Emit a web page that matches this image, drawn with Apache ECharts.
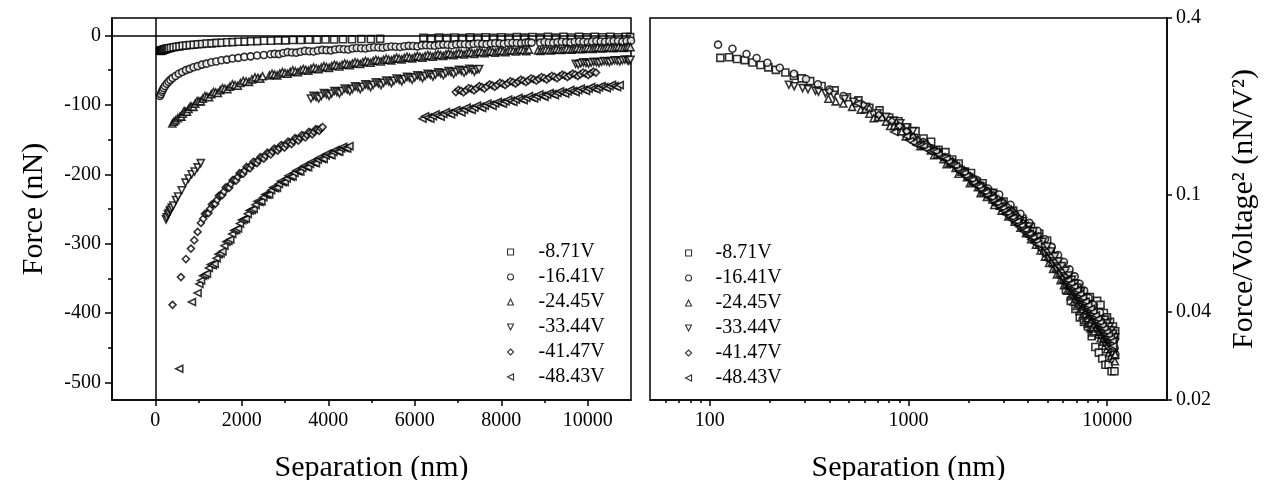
<!DOCTYPE html>
<html>
<head>
<meta charset="utf-8">
<script src="https://cdn.jsdelivr.net/npm/echarts@6/dist/echarts.min.js"></script>
<style>
  html, body { margin: 0; padding: 0; background: #fff; }
  #chart { width: 1269px; height: 480px; }
</style>
</head>
<body>
<div id="chart"></div>
<script>
// Tip bias voltages, one curve each
const voltages = [-8.71, -16.41, -24.45, -33.44, -41.47, -48.43];
// open square, circle, up triangle, down triangle, diamond, left triangle
const markerShapes = ['rect', 'circle', 'triangle', 'path://M0,0L2,0L1,2Z', 'diamond', 'path://M2,0L2,2L0,1Z'];

// Measured force curves: [separation (nm), force (nN)]
const curve871 = [
  [113,-22.2],[125,-22.3],[137,-22.0],[150,-21.8],[164,-21.4],[180,-21.0],[197,-20.6],[215,-20.2],[240,-19.8],[265,-19.3],
  [290,-18.9],[320,-18.5],[365,-17.8],[425,-17.2],[490,-16.3],[560,-15.9],
  [635,-15.0],[715,-14.7],[800,-13.9],[890,-13.5],[985,-12.8],[1085,-12.5],[1190,-11.8],[1300,-11.5],[1415,-10.8],[1535,-10.6],
  [1660,-10.0],[1790,-9.7],[1925,-9.1],[2065,-9.0],[2210,-8.4],[2360,-8.3],[2515,-7.8],[2675,-7.7],[2840,-7.2],[3010,-7.2],
  [3185,-6.7],[3365,-6.7],[3550,-6.3],[3740,-6.3],[3935,-5.9],[4135,-5.9],[4340,-5.5],[4550,-5.6],[4765,-5.2],[4985,-5.3],[5200,-5.0],
  [6200,-3.6],[6380,-4.1],[6560,-3.3],[6740,-3.8],[6920,-3.1],[7100,-3.7],[7280,-2.9],[7460,-3.5],[7640,-2.8],[7820,-3.4],
  [8000,-2.7],[8180,-3.4],[8360,-2.5],[8540,-3.2],[8720,-2.3],[8900,-3.3],[9080,-2.2],[9260,-3.2],[9440,-2.1],[9620,-3.0],
  [9800,-2.0],[9980,-2.9],[10160,-2.0],[10340,-2.8],[10520,-1.9],[10700,-2.7],[10880,-1.9],[10980,-2.6]
];
const curve1641 = [
  [110,-87.4],[130,-84.6],[153,-81.2],[172,-78.7],[195,-75.8],[225,-72.9],[265,-69.6],[305,-66.8],[350,-64.1],[400,-61.5],
  [470,-58.4],[545,-55.2],[625,-52.7],[710,-50.0],
  [795,-48.2],[885,-45.9],[980,-44.3],[1080,-42.1],[1185,-40.7],[1295,-38.8],[1410,-37.6],[1530,-35.9],[1655,-34.9],[1785,-33.3],
  [1920,-32.4],[2060,-31.0],[2205,-30.2],[2355,-28.9],[2510,-28.3],[2665,-27.3],
  [2760,-26.7],[2860,-27.0],[2960,-25.5],[3060,-24.2],[3160,-24.6],[3260,-24.9],[3360,-23.5],[3460,-22.4],[3560,-22.9],[3660,-23.2],
  [3760,-21.8],[3860,-20.9],[3960,-21.3],[4060,-21.6],[4160,-20.3],[4260,-19.6],[4360,-19.9],[4460,-20.3],[4560,-19.0],[4660,-18.3],
  [4760,-18.6],[4860,-19.0],[4960,-17.8],[5060,-17.1],[5160,-17.4],[5260,-17.9],[5360,-16.7],[5460,-16.0],[5560,-16.3],[5660,-16.8],
  [5760,-15.6],[5860,-15.1],[5960,-15.4],[6060,-15.9],[6160,-14.7],[6260,-14.2],[6360,-14.5],[6460,-15.0],[6560,-13.8],[6660,-13.3],
  [6760,-13.6],[6860,-14.2],[6960,-13.0],[7060,-12.6],[7160,-12.9],[7260,-13.4],[7360,-12.3],[7460,-11.8],[7560,-12.2],[7660,-12.7],
  [7760,-11.6],[7860,-11.2],[7960,-11.5],[8060,-12.0],[8160,-11.0],[8260,-10.6],[8360,-10.9],[8460,-11.4],[8560,-10.4],[8630,-10.1],[8700,-10.4],
  [8900,-10.5],[9000,-9.6],[9100,-10.2],[9200,-10.7],[9300,-9.8],[9400,-9.2],[9500,-9.7],[9600,-10.1],[9700,-9.3],[9800,-8.7],
  [9900,-9.3],[10000,-9.8],[10100,-8.9],[10200,-8.3],[10300,-8.9],[10400,-9.3],[10500,-8.5],[10600,-7.9],[10700,-8.5],[10800,-9.0],
  [10900,-8.1],[11000,-7.7]
];
const curve2445 = [
  [395,-127.0],[430,-124.4],[470,-122.3],[520,-119.1],[575,-116.6],[605,-117.0],[635,-112.9],[668,-109.0],[700,-109.9],[735,-110.0],
  [770,-106.1],[808,-102.5],[845,-102.6],[885,-103.0],[925,-98.3],[968,-94.5],[1010,-94.8],[1055,-95.0],[1100,-91.1],[1148,-87.5],
  [1195,-88.2],[1245,-89.0],[1295,-84.7],[1345,-81.5],[1395,-82.2],[1448,-83.0],[1500,-79.0],[1555,-76.0],[1610,-76.8],[1668,-77.5],
  [1725,-73.8],[1785,-70.5],[1845,-71.6],[1908,-72.5],[1970,-68.6],[2035,-65.5],[2100,-66.4],[2168,-67.0],[2235,-63.4],[2305,-60.5],
  [2375,-61.2],[2428,-62.5],[2480,-58.8],
  [2640,-57.6],[2700,-55.2],[2760,-56.5],[2820,-57.6],[2880,-54.9],[2940,-52.8],[3000,-54.1],[3060,-55.2],[3120,-52.6],[3180,-50.4],
  [3240,-51.9],[3300,-53.0],[3360,-50.3],[3420,-48.4],[3480,-49.7],[3540,-50.8],[3600,-48.2],[3660,-46.2],[3720,-47.6],[3780,-48.8],
  [3840,-46.2],[3900,-44.2],[3960,-45.6],[4020,-46.8],[4080,-44.2],[4140,-42.2],[4200,-43.6],[4260,-44.8],[4320,-42.3],[4380,-40.4],
  [4440,-41.7],[4500,-42.9],[4560,-40.4],[4620,-38.6],[4680,-39.9],[4740,-41.2],[4800,-38.6],[4860,-36.8],[4920,-38.1],[4980,-39.4],
  [5040,-36.8],[5100,-35.0],[5160,-36.4],[5220,-37.6],[5280,-35.2],[5340,-33.4],[5400,-34.9],[5460,-36.0],[5520,-33.7],[5580,-32.0],
  [5640,-33.4],[5700,-34.6],[5760,-32.3],[5820,-30.6],[5880,-32.0],[5940,-33.2],[6000,-30.9],[6060,-29.4],[6120,-30.7],[6180,-32.0],
  [6240,-29.7],[6300,-28.2],[6360,-29.5],[6420,-30.8],[6480,-28.5],[6540,-27.0],[6600,-28.3],[6660,-29.6],[6720,-27.4],[6780,-25.9],
  [6840,-27.3],[6900,-28.6],[6960,-26.4],[7020,-25.0],[7080,-26.3],[7140,-27.6],[7200,-25.4],[7260,-24.0],[7320,-25.3],[7380,-26.6],
  [7440,-24.4],[7500,-23.2],[7560,-24.4],[7620,-25.8],[7680,-23.5],[7740,-22.4],[7800,-23.5],[7860,-24.9],[7920,-22.7],[7980,-21.7],
  [8040,-22.7],[8100,-24.1],[8160,-21.9],[8220,-21.0],[8280,-21.9],[8340,-23.3],[8400,-21.1],[8460,-20.3],[8520,-21.2],[8580,-22.7],[8640,-20.5],
  [8850,-21.6],[8910,-22.6],[8970,-21.0],[9030,-20.0],[9090,-21.0],[9150,-21.8],[9210,-20.4],[9270,-19.4],[9330,-20.5],[9390,-21.0],
  [9450,-19.9],[9510,-18.9],[9570,-19.9],[9630,-20.5],[9690,-19.3],[9750,-18.3],[9810,-19.4],[9870,-19.9],[9930,-18.8],[9990,-17.8],
  [10050,-18.9],[10110,-19.4],[10170,-18.3],[10230,-17.3],[10290,-18.4],[10350,-18.9],[10410,-17.8],[10470,-16.9],[10530,-17.9],[10590,-18.4],
  [10650,-17.4],[10710,-16.5],[10770,-17.5],[10830,-18.0],[10890,-17.0],[10940,-16.2],[10990,-17.1]
];
const curve3344 = [
  [250,-265],[266,-262],[293,-258],[312,-256],[340,-253],[352,-251],[382,-248],[420,-245],[478,-237],[528,-232],[612,-223],
  [700,-212],[770,-206],[842,-200],[910,-196],[980,-190],[1052,-184],
  [3600,-91.0],[3660,-87.0],[3720,-88.7],[3780,-91.0],[3840,-87.2],[3900,-83.2],[3960,-84.9],[4020,-87.2],[4080,-83.6],[4140,-80.0],
  [4200,-81.4],[4260,-83.8],[4320,-80.2],[4380,-76.6],[4440,-78.2],[4500,-80.4],[4560,-77.0],[4620,-73.5],[4680,-75.1],[4740,-77.4],
  [4800,-74.0],[4860,-70.6],[4920,-72.1],[4980,-74.5],[5040,-71.0],[5100,-67.6],[5160,-69.2],[5220,-71.7],[5280,-68.2],[5340,-65.0],
  [5400,-66.4],[5460,-68.9],[5520,-65.4],[5580,-62.2],[5640,-63.7],[5700,-66.3],[5760,-62.9],[5820,-59.8],[5880,-61.3],[5940,-63.9],
  [6000,-60.5],[6060,-57.4],[6120,-59.0],[6180,-61.6],[6240,-58.3],[6300,-55.2],[6360,-56.8],[6420,-59.4],[6480,-56.2],[6540,-53.2],
  [6600,-54.8],[6660,-57.5],[6720,-54.3],[6780,-51.3],[6840,-53.0],[6900,-55.7],[6960,-52.5],[7020,-49.5],[7080,-51.2],[7140,-53.9],
  [7200,-50.8],[7260,-48.0],[7320,-49.6],[7380,-52.3],[7440,-49.2],[7490,-48.4],
  [9720,-40.9],[9780,-42.0],[9840,-40.2],[9900,-38.9],[9960,-39.9],[10020,-40.8],[10080,-39.1],[10140,-37.9],[10200,-38.7],[10260,-39.7],
  [10320,-38.0],[10380,-36.9],[10440,-37.6],[10500,-38.6],[10560,-36.9],[10620,-35.8],[10680,-36.6],[10740,-37.6],[10800,-35.9],[10860,-34.9],
  [10920,-35.7],[10950,-36.5],[10990,-35.2]
];
const curve4147 = [
  [400,-388],[594,-348],[709,-322],[825,-307],[902,-295],[979,-283],[1056,-270],
  [1110,-264.0],[1150,-257.0],[1190,-256.2],[1230,-256.0],[1270,-249.8],[1310,-243.5],[1350,-242.7],[1390,-242.5],[1430,-236.8],[1470,-231.0],
  [1510,-230.2],[1550,-230.0],[1590,-224.8],[1630,-219.0],[1670,-218.7],[1710,-219.5],[1750,-213.8],[1790,-208.5],[1830,-208.2],[1870,-209.0],
  [1910,-203.8],[1950,-198.5],[1990,-198.7],[2030,-199.5],[2070,-194.8],[2110,-189.5],[2150,-190.2],[2190,-191.5],[2230,-186.8],[2270,-182.0],
  [2310,-182.7],[2350,-184.0],[2390,-179.8],[2430,-175.5],[2470,-175.7],[2510,-177.5],[2550,-173.3],[2590,-169.0],[2630,-169.7],[2670,-171.5],
  [2710,-167.3],[2750,-163.0],[2790,-164.2],[2830,-166.0],[2870,-162.3],[2910,-158.0],[2950,-159.2],[2990,-161.5],[3030,-157.3],[3070,-153.0],
  [3110,-154.2],[3150,-156.5],[3190,-152.3],[3230,-148.0],[3270,-149.2],[3310,-151.5],[3350,-147.3],[3390,-143.5],[3430,-144.7],[3470,-147.0],
  [3510,-143.3],[3550,-139.0],[3590,-140.2],[3630,-142.5],[3670,-138.8],[3710,-135.0],[3750,-135.7],[3790,-137.5],[3830,-133.8],[3870,-132.0],
  [6950,-81.6],[7010,-78.5],[7070,-79.9],[7130,-82.0],[7190,-78.9],[7250,-75.8],[7310,-77.1],[7370,-79.2],[7430,-76.2],[7490,-73.0],
  [7550,-74.5],[7610,-76.5],[7670,-73.6],[7730,-70.5],[7790,-72.0],[7850,-74.0],[7910,-71.2],[7970,-68.2],[8030,-69.6],[8090,-71.6],
  [8150,-68.9],[8210,-66.0],[8270,-67.4],[8330,-69.5],[8390,-66.7],[8450,-63.8],[8510,-65.3],[8570,-67.4],[8630,-64.7],[8690,-61.8],
  [8750,-63.3],[8810,-65.3],[8870,-62.7],[8930,-60.0],[8990,-61.4],[9050,-63.6],[9110,-60.9],[9170,-58.2],[9230,-59.6],[9290,-61.8],
  [9350,-59.2],[9410,-56.6],[9470,-57.9],[9530,-60.0],[9590,-57.5],[9650,-55.0],[9710,-56.4],[9770,-58.6],[9830,-56.0],[9890,-53.5],
  [9950,-54.9],[10010,-57.2],[10070,-54.7],[10130,-52.3],[10190,-53.6]
];
const curve4843 = [
  [555,-480],[848,-384],[979,-371],[1020,-358],
  [1060,-353],[1105,-346],[1150,-345],[1195,-343],[1240,-335],[1285,-330],[1330,-331],[1375,-329],[1420,-321],[1465,-315],
  [1510,-314],[1555,-311],[1600,-303],[1645,-297],[1690,-296],[1735,-294],[1780,-286],[1825,-281],[1870,-280],[1915,-278],
  [1960,-271],[2005,-266],[2050,-265],[2095,-264],[2140,-257],[2185,-252],[2230,-251.5],[2275,-250],[2320,-244],[2365,-239],
  [2410,-240],[2455,-239],[2500,-233],[2545,-229],[2590,-229.5],[2635,-229],[2680,-223],[2725,-219],[2770,-220],[2815,-219.5],
  [2860,-214],[2905,-210],[2950,-211.5],[2995,-211],[3040,-206],[3085,-202],[3130,-203.5],[3175,-203],[3220,-198],[3265,-194.5],
  [3310,-196],[3355,-196],[3400,-191],[3445,-188],[3490,-189.5],[3535,-190],[3580,-185],[3625,-182],[3670,-183.5],[3715,-184],
  [3760,-179],[3805,-176],[3850,-177.5],[3895,-178],[3940,-173],[3985,-170],[4030,-172],[4075,-172.5],[4120,-168],[4165,-165],
  [4210,-167],[4255,-167.5],[4300,-163],[4345,-160.5],[4390,-162.5],[4440,-163],[4490,-159.5],
  [6180,-120.0],[6240,-116.5],[6300,-118.4],[6360,-120.0],[6420,-116.5],[6480,-113.5],[6540,-115.3],[6600,-117.0],[6660,-113.3],[6720,-110.5],
  [6780,-112.2],[6840,-114.0],[6900,-110.2],[6960,-107.5],[7020,-109.0],[7080,-111.0],[7140,-107.0],[7200,-104.0],[7260,-105.9],[7320,-107.5],
  [7380,-104.0],[7440,-101.0],[7500,-102.9],[7560,-104.5],[7620,-101.1],[7680,-98.0],[7740,-100.0],[7800,-101.5],[7860,-98.1],[7920,-95.5],
  [7980,-97.0],[8040,-98.5],[8100,-95.2],[8160,-92.5],[8220,-94.3],[8280,-96.0],[8340,-92.6],[8400,-90.0],[8460,-91.8],[8520,-93.5],
  [8580,-90.2],[8640,-87.5],[8700,-89.4],[8760,-91.0],[8820,-87.8],[8880,-85.0],[8940,-86.9],[9000,-88.5],[9060,-85.3],[9120,-83.0],
  [9180,-84.5],[9240,-86.2],[9300,-83.0],[9360,-80.5],[9420,-82.3],[9480,-84.0],[9540,-80.8],[9600,-78.5],[9660,-80.2],[9720,-82.0],
  [9780,-78.8],[9840,-76.5],[9900,-78.2],[9960,-80.0],[10020,-76.7],[10080,-74.5],[10140,-76.2],[10200,-78.0],[10260,-74.9],[10320,-72.8],
  [10380,-74.4],[10440,-76.0],[10500,-73.2],[10560,-71.0],[10620,-72.8],[10680,-74.5],[10740,-71.6]
];
const forceCurves = [curve871, curve1641, curve2445, curve3344, curve4147, curve4843];

// Axis tick positions and labels
const sepTicks = [0, 2000, 4000, 6000, 8000, 10000];
const sepMinorTicks = [1000, 3000, 5000, 7000, 9000];
const forceTicks = [-500, -400, -300, -200, -100, 0];
const forceMinorTicks = [-450, -350, -250, -150, -50];
const logSepTicks = [100, 1000, 10000];
const logSepMinorTicks = [60, 70, 80, 90, 200, 300, 400, 500, 600, 700, 800, 900,
  2000, 3000, 4000, 5000, 6000, 7000, 8000, 9000];
const ratioTicks = [0.02, 0.04, 0.1, 0.4];

const serif = "'Liberation Serif', 'DejaVu Serif', serif";
const black = '#000';
const seriesNames = voltages.map(v => v.toFixed(2) + 'V');

function mainAxis(extra) {
  return Object.assign({
    axisLine: { show: true, onZero: false, lineStyle: { color: black, width: 1.5 } },
    splitLine: { show: false },
    nameTextStyle: { fontFamily: serif, fontSize: 30, color: black },
    nameLocation: 'middle'
  }, extra);
}
function tickOnlyAxis(extra, ticks, len) {
  return Object.assign({
    axisLine: { show: false, onZero: false },
    axisTick: { show: true, inside: false, length: len, customValues: ticks, lineStyle: { color: black, width: 1.5 } },
    axisLabel: { show: false },
    splitLine: { show: false }
  }, extra);
}
function labelStyle(values, margin) {
  return {
    show: true, customValues: values, fontFamily: serif, fontSize: 20, color: black, margin: margin,
    showMinLabel: true, showMaxLabel: true,
    formatter: v => String(v)
  };
}
function majorTicks(values, len) {
  return { show: true, inside: false, length: len, customValues: values, lineStyle: { color: black, width: 1.5 } };
}

const markerStyle = { color: '#fff', borderColor: black, borderWidth: 1.6 };

const series = [];
voltages.forEach((v, i) => {
  const base = {
    type: 'scatter',
    name: seriesNames[i],
    symbol: markerShapes[i],
    symbolSize: 7,
    itemStyle: markerStyle,
    silent: true,
    animation: false
  };
  const left = Object.assign({}, base, { xAxisIndex: 0, yAxisIndex: 0, data: forceCurves[i] });
  if (i === 0) {
    // zero reference lines
    left.markLine = {
      silent: true,
      symbol: ['none', 'none'],
      label: { show: false },
      lineStyle: { color: black, width: 1.5, type: 'solid' },
      data: [{ xAxis: 0 }, { yAxis: 0 }],
      animation: false
    };
  }
  series.push(left);
  // Right panel: force normalised by voltage squared
  const v2 = v * v;
  series.push(Object.assign({}, base, {
    xAxisIndex: 2, yAxisIndex: 2,
    data: forceCurves[i].map(p => [p[0], -p[1] / v2])
  }));
});

function legendAt(left, top, textShift) {
  return {
    data: seriesNames,
    orient: 'vertical',
    left: left,
    top: top,
    padding: 0,
    itemWidth: 6,
    itemHeight: 6,
    itemGap: 5,
    selectedMode: false,
    itemStyle: { color: '#fff', borderColor: black, borderWidth: 1.1 },
    textStyle: { fontFamily: serif, fontSize: 20, color: black, padding: [0, 0, 0, textShift] }
  };
}

const gridBox = { show: true, borderColor: black, borderWidth: 1.5, backgroundColor: 'transparent', outerBoundsMode: 'none', containLabel: false };

const option = {
  animation: false,
  backgroundColor: '#fff',
  textStyle: { fontFamily: serif, color: black },
  grid: [
    Object.assign({ left: 112, top: 18, width: 519, height: 382 }, gridBox),
    Object.assign({ left: 650, top: 18, width: 517, height: 382 }, gridBox)
  ],
  xAxis: [
    mainAxis({
      gridIndex: 0, type: 'value', min: -1000, max: 11000, position: 'bottom',
      name: 'Separation (nm)', nameGap: 53,
      axisTick: majorTicks(sepTicks, 6),
      axisLabel: labelStyle(sepTicks, 11)
    }),
    tickOnlyAxis({ gridIndex: 0, type: 'value', min: -1000, max: 11000, position: 'bottom' }, sepMinorTicks, 3),
    mainAxis({
      gridIndex: 1, type: 'log', logBase: 10, min: 50, max: 20000, position: 'bottom',
      name: 'Separation (nm)', nameGap: 53,
      axisTick: majorTicks(logSepTicks, 6),
      axisLabel: labelStyle(logSepTicks, 11)
    }),
    tickOnlyAxis({ gridIndex: 1, type: 'log', logBase: 10, min: 50, max: 20000, position: 'bottom' }, logSepMinorTicks, 3)
  ],
  yAxis: [
    mainAxis({
      gridIndex: 0, type: 'value', min: -525, max: 25, position: 'left',
      name: 'Force (nN)', nameGap: 63, nameRotate: 90,
      axisTick: majorTicks(forceTicks, 7),
      axisLabel: labelStyle(forceTicks, 11)
    }),
    tickOnlyAxis({ gridIndex: 0, type: 'value', min: -525, max: 25, position: 'left' }, forceMinorTicks, 4),
    mainAxis({
      gridIndex: 1, type: 'log', logBase: 10, min: 0.02, max: 0.4, position: 'right',
      name: 'Force/Voltage\u00B2 (nN/V\u00B2)', nameGap: 62, nameRotate: 90,
      axisTick: majorTicks(ratioTicks, 5),
      axisLabel: labelStyle(ratioTicks, 9)
    })
  ],
  legend: [
    legendAt(507, 242, 20),
    legendAt(685, 243, 19)
  ],
  series: series
};

const chart = echarts.init(document.getElementById('chart'), null, { renderer: 'canvas' });
chart.setOption(option);
</script>
</body>
</html>
